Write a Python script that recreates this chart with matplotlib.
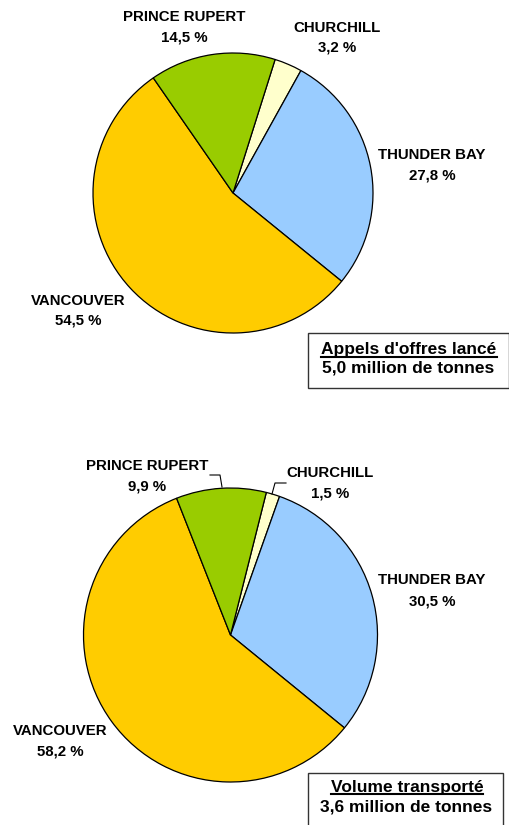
import matplotlib
matplotlib.use("Agg")
import matplotlib.pyplot as plt

plt.rcParams['font.family'] = ['Liberation Sans', 'DejaVu Sans']

ports = ['CHURCHILL', 'THUNDER BAY', 'VANCOUVER', 'PRINCE RUPERT']
colors = ['#FFFFCC', '#99CCFF', '#FFCC00', '#99CC00']

# appels d'offres lance (top) and volume transporte (bottom), in %
tender_pct = [3.2, 27.8, 54.5, 14.5]
shipped_pct = [1.5, 30.5, 58.2, 9.9]

tender_title = "Appels d'offres lancé"
tender_total = "5,0 million de tonnes"
shipped_title = "Volume transporté"
shipped_total = "3,6 million de tonnes"

W, H = 510, 825
fig = plt.figure(figsize=(W / 100, H / 100), dpi=100)
ax = fig.add_axes([0, 0, 1, 1])


def fy(y):
    # pixel row (from top) -> data y
    return H - y


def pct_txt(v):
    return ('%.1f' % v).replace('.', ',') + ' %'


# top pie
ax.pie(tender_pct, colors=colors, startangle=72.5, counterclock=False,
       center=(233, fy(193)), radius=140,
       wedgeprops=dict(edgecolor='black', linewidth=0.9))
# bottom pie
ax.pie(shipped_pct, colors=colors, startangle=75.9, counterclock=False,
       center=(230.5, fy(635)), radius=147,
       wedgeprops=dict(edgecolor='black', linewidth=0.9))

top_lbl_pos = [(337, 28, 48), (432, 155, 176), (78, 301, 321), (184, 17, 37)]
bot_lbl_pos = [(330, 473, 494), (432, 580, 601), (60, 731, 751), (147, 466, 487)]

for pcts, pos in [(tender_pct, top_lbl_pos), (shipped_pct, bot_lbl_pos)]:
    for name, v, (x, y1, y2) in zip(ports, pcts, pos):
        ax.text(x, fy(y1), name, ha='center', va='center', fontsize=10.8,
                fontweight='bold')
        ax.text(x, fy(y2), pct_txt(v), ha='center', va='center', fontsize=10.8,
                fontweight='bold')

# leader lines for the small slices on the bottom pie
ax.plot([210, 220, 222], [fy(475), fy(475), fy(487)], color='black', lw=0.8)
ax.plot([286, 275, 272], [fy(483), fy(483), fy(494)], color='black', lw=0.8)

# boxes
ax.add_patch(plt.Rectangle((308, fy(388)), 201, 55, fill=False,
                           edgecolor='#333333', lw=1.0))
ax.add_patch(plt.Rectangle((308, fy(830)), 195, 57, fill=False,
                           edgecolor='#333333', lw=1.0))

box_fs = 12.5
t1 = ax.text(409, fy(354.5), tender_title, ha='center', va='baseline',
             fontsize=box_fs, fontweight='bold')
ax.text(408, fy(373), tender_total, ha='center', va='baseline',
        fontsize=box_fs, fontweight='bold')
t2 = ax.text(407, fy(792), shipped_title, ha='center', va='baseline',
             fontsize=box_fs, fontweight='bold')
ax.text(406, fy(812), shipped_total, ha='center', va='baseline',
        fontsize=box_fs, fontweight='bold')

ax.set_xlim(0, W)
ax.set_ylim(0, H)
ax.set_aspect('equal')
ax.axis('off')

# underline the box titles
fig.canvas.draw()
r = fig.canvas.get_renderer()
for t, yb in [(t1, 354.5), (t2, 792)]:
    bb = t.get_window_extent(r)
    ax.plot([bb.x0, bb.x1], [fy(yb + 2), fy(yb + 2)], color='black', lw=1.5)

fig.savefig('out.png', dpi=100)
